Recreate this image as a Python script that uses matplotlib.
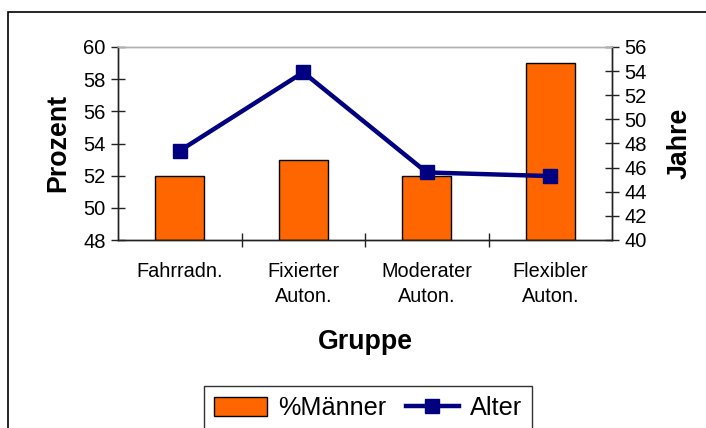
import matplotlib
matplotlib.use("Agg")
import matplotlib.pyplot as plt
from matplotlib.patches import Rectangle

plt.rcParams['font.family'] = ['Liberation Sans', 'DejaVu Sans']

categories = ["Fahrradn.", "Fixierter\nAuton.", "Moderater\nAuton.", "Flexibler\nAuton."]
maenner = [52, 53, 52, 59]
alter = [47.4, 53.9, 45.6, 45.3]
left_ticks = [48, 50, 52, 54, 56, 58, 60]
right_ticks = [40, 42, 44, 46, 48, 50, 52, 54, 56]

W, H = 706, 428
fig = plt.figure(figsize=(W / 100, H / 100), dpi=100)
ax = fig.add_axes([118 / W, 1 - 240 / H, (612 - 118) / W, (240 - 47) / H])
ax2 = ax.twinx()

x = list(range(len(categories)))
bars = ax.bar(x, [v - 48 for v in maenner], bottom=48, width=0.4, color="#FF6600",
              edgecolor="black", linewidth=1.0, label="%Männer", zorder=2)
line, = ax2.plot(x, alter, color="#000080", linewidth=3.2, marker="s", markersize=10,
                 label="Alter", zorder=3)

ax.set_xlim(-0.5, 3.5)
ax.set_ylim(48, 60)
ax2.set_ylim(40, 56)
ax.set_yticks(left_ticks)
ax2.set_yticks(right_ticks)

ax.set_xticks([0.5, 1.5, 2.5])
ax.set_xticklabels([])
ax.set_xticks(x, minor=True)
ax.set_xticklabels(categories, minor=True, fontsize=14.3, linespacing=1.4)
ax.tick_params(axis="x", which="minor", length=0, pad=16)
ax.tick_params(axis="x", which="major", direction="inout", length=10, width=1, color="#222222")
ax.tick_params(axis="y", direction="inout", length=10, width=1, labelsize=14.5, pad=4, color="#222222")
ax2.tick_params(axis="y", direction="inout", length=10, width=1, labelsize=14.5, pad=4, color="#222222")

for a in (ax, ax2):
    a.spines["top"].set_color("#b0b0b0")
    a.spines["top"].set_linewidth(1.0)
    for s in ("left", "right", "bottom"):
        a.spines[s].set_color("#222222")
        a.spines[s].set_linewidth(1.0)

fig.text(58 / W, 1 - 143 / H, "Prozent", rotation=90, ha="center", va="center",
         fontsize=19.3, fontweight="bold")
fig.text(680 / W, 1 - 143 / H, "Jahre", rotation=90, ha="center", va="center",
         fontsize=19.3, fontweight="bold")
fig.text(365 / W, 1 - 342 / H, "Gruppe", ha="center", va="center",
         fontsize=19.3, fontweight="bold")

leg = fig.legend([bars, line], ["%Männer", "Alter"], loc="upper left",
                 bbox_to_anchor=(204 / W, 1 - 386 / H), ncol=2, fontsize=18.2,
                 frameon=True, fancybox=False, edgecolor="black", handlelength=2.1,
                 handleheight=0.75, columnspacing=0.75, handletextpad=0.45,
                 borderpad=0.4, borderaxespad=0)
leg.get_frame().set_linewidth(1.0)

fig.patches.append(Rectangle((8 / W, -0.2), 1.2, 1 - 12 / H + 0.2, transform=fig.transFigure,
                             fill=False, edgecolor="black", linewidth=1.2))

fig.savefig("out.png", dpi=100)
